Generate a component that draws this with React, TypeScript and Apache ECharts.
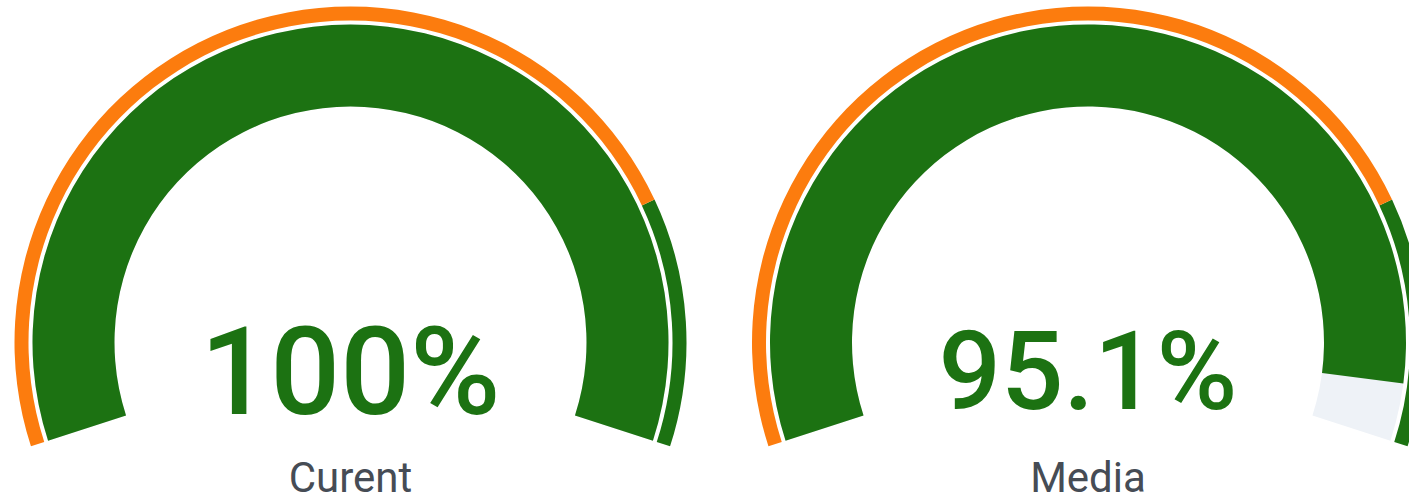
import React, { useEffect, useRef } from "react";
import * as echarts from "echarts";

// ---- data ----
const gaugeNames: string[] = ["Curent", "Media"];
const gaugeValues: number[] = [100, 95.1];
const gaugeMin = 0;
const gaugeMax = 100;
// fraction of the outer ring drawn in orange before it turns green
const ringSplit: number[] = [0.8, 0.8];

// ---- styles ----
const GREEN = "#1c7212";
const ORANGE = "#fc7c0e";
const TRACK = "#eef2f7";
const TITLE = "#464c55";
const centers: [number, number][] = [
  [350.5, 342.5],
  [1088, 342.5],
];
const valueFontSizes = [123, 110];

export default function App() {
  const ref = useRef<HTMLDivElement>(null);
  useEffect(() => {
    if (!ref.current) return;
    const chart = echarts.init(ref.current, undefined, { renderer: "svg" });
    const series: any[] = [];
    gaugeNames.forEach((name, i) => {
      const common = {
        type: "gauge",
        center: centers[i],
        startAngle: 198,
        endAngle: -18,
        min: gaugeMin,
        max: gaugeMax,
        splitLine: { show: false },
        axisTick: { show: false },
        axisLabel: { show: false },
        pointer: { show: false },
        anchor: { show: false },
      };
      series.push({
        ...common,
        radius: 336,
        axisLine: {
          lineStyle: {
            width: 14,
            color: [
              [ringSplit[i], ORANGE],
              [1, GREEN],
            ],
          },
        },
        title: { show: false },
        detail: { show: false },
        data: [{ value: gaugeValues[i], name: "" }],
        silent: true,
      });
      series.push({
        ...common,
        radius: 318,
        progress: { show: true, width: 82, itemStyle: { color: GREEN } },
        axisLine: { lineStyle: { width: 82, color: [[1, TRACK]] } },
        title: {
          show: true,
          offsetCenter: [0, 135],
          color: TITLE,
          fontSize: 42,
          lineHeight: 36,
          fontFamily: "Roboto",
        },
        detail: {
          show: true,
          offsetCenter: [0, 29],
          formatter: "{value}%",
          color: GREEN,
          fontSize: valueFontSizes[i],
          fontWeight: 500,
          fontFamily: "Roboto",
        },
        data: [{ value: gaugeValues[i], name }],
      });
    });
    chart.setOption({ animation: false, series });
    return () => chart.dispose();
  }, []);
  return (
    <div
      ref={ref}
      style={{ position: "absolute", left: 0, top: 0, width: 1409, height: 498, background: "#fff" }}
    />
  );
}
